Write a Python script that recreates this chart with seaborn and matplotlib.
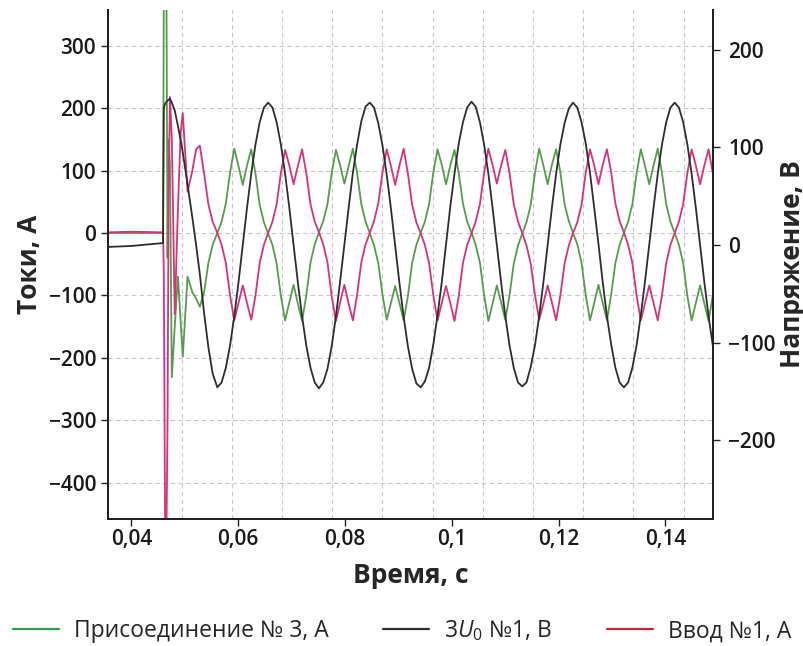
import numpy as np
import pandas as pd
import matplotlib
matplotlib.use("Agg")
import matplotlib.pyplot as plt
from matplotlib.ticker import MultipleLocator, FuncFormatter, FixedLocator
from matplotlib.lines import Line2D
import seaborn as sns

# ---------------- oscillogram data ----------------
# pre-fault and fault-inception samples (time in ms)
t_fault_ms = [35.5, 40.0, 45.9, 46.05, 46.3, 46.55, 46.75, 46.95, 47.2, 47.55,
              48.1, 48.7, 49.2, 49.6, 50.5, 51.4, 52.1, 52.8, 53.6, 54.4, 55.2]
green_fault = [0, 0, 0, 380, 380, 380, -40, 150, 110, -231,
               -150, -70, -140, -198, -70, -95, -105, -118, -95, -48, -19]
red_fault = [1, 2, 1, -60, -480, -480, -300, 60, 218, 150,
             -130, 40, 160, 192, 66, 100, 134, 140, 95, 46, 18]
volt_fault = [-2, -1, 2, 140, 145, 147, 148, 149, 150, 146,
              138, 122, 108, 95, 62, 28, 0, -30, -70, -105, -132]

# steady fault record, 24 samples per cycle
rec_t0_ms = 56.08
rec_dt_ms = 0.793
green_rec = [
    0, 18, 47, 97, 135, 107, 77, 108, 134, 95, 45, 17, -1, -19, -49, -101, -140, -111, -83, -113, -141, -100, -47, -18,
    1, 19, 46, 96, 133, 108, 79, 107, 135, 96, 46, 18, 0, -20, -48, -99, -139, -112, -85, -112, -140, -101, -48, -19,
    0, 18, 46, 97, 134, 109, 78, 108, 133, 96, 47, 18, 1, -19, -47, -100, -141, -113, -84, -111, -139, -100, -49, -20,
    -1, 17, 45, 96, 135, 108, 78, 109, 134, 97, 46, 19, 0, -18, -48, -100, -140, -112, -83, -112, -140, -99, -48, -19,
    0, 18, 46, 95, 134, 107, 78, 108, 135, 96, 46, 18, 0, -19, -48, -101, -140, -112, -84, -113, -141, -100,
]
red_rec = [
    0, -19, -48, -100, -140, -112, -84, -112, -139, -100, -48, -19, 0, 18, 46, 96, 133, 108, 78, 107, 134, 96, 46, 18,
    1, -18, -47, -101, -141, -111, -83, -113, -140, -99, -47, -18, 0, 19, 47, 97, 134, 107, 77, 108, 135, 95, 45, 17,
    0, -19, -48, -100, -140, -112, -85, -112, -141, -101, -48, -19, -1, 18, 46, 96, 135, 109, 79, 108, 133, 96, 46, 18,
    0, -20, -49, -99, -139, -113, -84, -111, -140, -100, -49, -20, 0, 17, 45, 97, 134, 108, 78, 109, 134, 97, 47, 19,
    1, -19, -48, -100, -140, -112, -84, -112, -140, -100, -48, -19, 0, 18, 46, 96, 134, 108, 78, 108, 134, 96,
]
volt_rec = [
    -146, -141, -126, -103, -73, -38, 0, 38, 73, 103, 126, 141, 146, 141, 126, 103, 73, 38, 0, -38, -73, -103, -126, -141,
    -147, -141, -127, -104, -73, -37, 1, 38, 74, 103, 127, 142, 146, 141, 125, 102, 72, 37, -1, -39, -74, -104, -127, -142,
    -146, -140, -126, -102, -72, -38, 0, 39, 73, 104, 126, 141, 147, 142, 126, 103, 73, 38, 0, -38, -73, -103, -126, -141,
    -145, -141, -125, -103, -73, -38, 0, 38, 73, 103, 125, 140, 146, 141, 126, 104, 74, 38, 1, -38, -73, -102, -126, -141,
    -146, -141, -126, -103, -72, -37, 1, 38, 73, 103, 126, 141, 146, 141, 126, 103, 73, 38, 0, -38, -73, -103,
]

series_labels = ["Присоединение № 3, А", "3$U_0$ №1, В", "Ввод №1, А"]
x_ticks = [0.04, 0.06, 0.08, 0.10, 0.12, 0.14]
left_ticks = [-400, -300, -200, -100, 0, 100, 200, 300]
right_ticks = [-200, -100, 0, 100, 200]

# ---------------- assemble ----------------
t_rec_ms = rec_t0_ms + rec_dt_ms * np.arange(len(green_rec))
df = pd.DataFrame({
    "t": np.concatenate([t_fault_ms, t_rec_ms]) / 1000.0,
    "green": np.concatenate([green_fault, green_rec]),
    "red": np.concatenate([red_fault, red_rec]),
    "volt": np.concatenate([volt_fault, volt_rec]),
})

# ---------------- style ----------------
sns.set_style("ticks")
FONT = ["Open Sans", "DejaVu Sans"]
plt.rcParams["font.family"] = FONT
plt.rcParams["mathtext.fontset"] = "custom"
plt.rcParams["mathtext.rm"] = "Open Sans"
plt.rcParams["mathtext.it"] = "Open Sans:italic"
plt.rcParams["axes.unicode_minus"] = True

GREEN = "#589b4e"
RED = "#d9317c"
BLACK = "#2e2e2e"
LEG_GREEN = "#2e9c57"
LEG_RED = "#cc2142"
AXIS = "#222222"
GRID = "#c8c8c8"

fig = plt.figure(figsize=(8.04, 6.46), dpi=100)
ax = fig.add_axes([108 / 804, 1 - 519 / 646, (713 - 108) / 804, (519 - 10) / 646])

sns.lineplot(data=df, x="t", y="green", ax=ax, color=GREEN, linewidth=1.3, legend=False)
sns.lineplot(data=df, x="t", y="red", ax=ax, color=RED, linewidth=1.3, legend=False)

ax2 = ax.twinx()
sns.lineplot(data=df, x="t", y="volt", ax=ax2, color=BLACK, linewidth=1.3, legend=False)

ax.set_xlim(0.0356, 0.1489)
ax.set_ylim(-458, 357)
ax2.set_ylim(-281, 241)

# grid
ax.xaxis.set_major_locator(FixedLocator(x_ticks))
ax.xaxis.set_minor_locator(MultipleLocator(0.0094, offset=0.0024))
ax.yaxis.set_major_locator(FixedLocator(left_ticks))
ax2.yaxis.set_major_locator(FixedLocator(right_ticks))
ax.grid(False)
ax2.grid(False)
ax.grid(which="minor", axis="x", color=GRID, linestyle=(0, (4, 3)), linewidth=0.8)
ax.grid(which="major", axis="y", color=GRID, linestyle=(0, (4, 3)), linewidth=0.8)
ax.set_axisbelow(True)

fmt_x = FuncFormatter(lambda v, p: f"{round(v, 4):g}".replace(".", ","))
fmt_y = FuncFormatter(lambda v, p: f"{int(round(v))}".replace("-", "\u2212"))
ax.xaxis.set_major_formatter(fmt_x)
ax.yaxis.set_major_formatter(fmt_y)
ax2.yaxis.set_major_formatter(fmt_y)

for a in (ax, ax2):
    a.tick_params(axis="both", which="major", direction="out", length=5, width=1,
                  color=AXIS, labelsize=15, labelcolor="#1a1a1a")
    a.tick_params(axis="x", which="minor", length=0)
    a.tick_params(axis="x", which="major", pad=2)
    for lbl in a.get_xticklabels() + a.get_yticklabels():
        lbl.set_fontweight("semibold")
    for side in ("left", "right", "bottom"):
        a.spines[side].set_color(AXIS)
        a.spines[side].set_linewidth(1.4)
    a.spines["top"].set_visible(False)
ax2.tick_params(axis="y", pad=6)

ax.set_xlabel("Время, с", fontsize=19, fontweight="bold", labelpad=9)
ax.set_ylabel("Токи, А", fontsize=19, fontweight="bold", labelpad=4)
ax2.set_ylabel("Напряжение, В", fontsize=19, fontweight="bold", labelpad=2)

handles = [Line2D([], [], color=LEG_GREEN, lw=1.6),
           Line2D([], [], color=BLACK, lw=1.6),
           Line2D([], [], color=LEG_RED, lw=1.6)]
fig.legend(handles, series_labels, loc="center", bbox_to_anchor=(0.5, 1 - 631 / 646),
           ncol=3, frameon=False, fontsize=16.5, handlelength=2.0,
           columnspacing=2.4, handletextpad=0.65)

fig.savefig("out.png", dpi=100)
